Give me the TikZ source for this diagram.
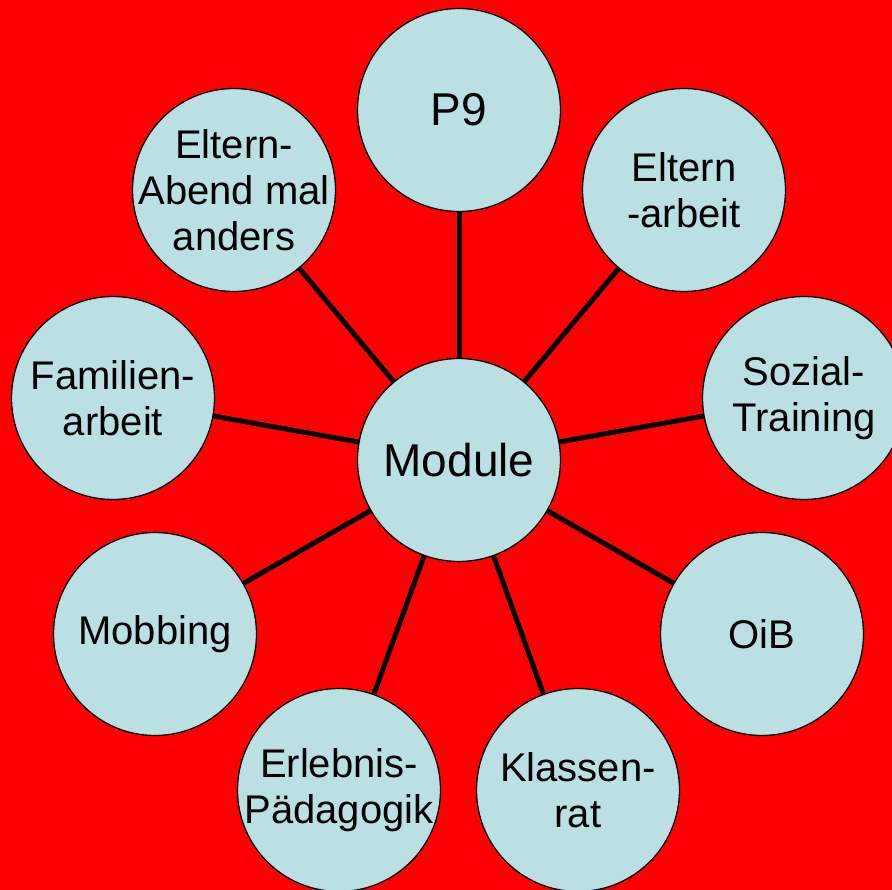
\documentclass[tikz,border=0pt]{standalone}
\usepackage{fontspec}
\setmainfont{Liberation Sans}
\usepackage{tikz}
\definecolor{kreis}{RGB}{187,224,227}
\definecolor{grund}{RGB}{255,0,0}

\begin{document}
\begin{tikzpicture}
[x=1pt,y=-1pt]
\tikzset{
	modul/.style = {circle, draw, fill = kreis, line width = 1.3pt, minimum size = 203pt, inner sep = -30pt, align = center, font = \fontsize{40}{46}\selectfont},
	mitte/.style = {modul, font = \fontsize{46}{52}\selectfont},
	kante/.style = {line width = 5pt}
}

\fill [grund] (0,0) rectangle (892,890);
\useasboundingbox (0,0) rectangle (892,890);

\node(m) [mitte] at (459,460) {Module};
\node(p9) [mitte] at (459,110) {P9};
\node(ea) [modul] at (684,190) {Eltern\\-arbeit};
\node(st) [modul] at (804,398) {Sozial-\\Training};
\node(oib) [modul] at (762,634) {OiB};
\node(kr) [modul] at (578,790) {Klassen-\\rat};
\node(ep) [modul] at (339,790) {Erlebnis-\\Pädagogik};
\node(mob) [modul] at (155,634) {Mobbing};
\node(fa) [modul] at (113,398) {Familien-\\arbeit};
\node(eam) [modul] at (234,190) {Eltern-\\Abend mal\\anders};

\draw [kante] (m) -- (p9);
\draw [kante] (m) -- (ea);
\draw [kante] (m) -- (st);
\draw [kante] (m) -- (oib);
\draw [kante] (m) -- (kr);
\draw [kante] (m) -- (ep);
\draw [kante] (m) -- (mob);
\draw [kante] (m) -- (fa);
\draw [kante] (m) -- (eam);
\end{tikzpicture}
\end{document}
